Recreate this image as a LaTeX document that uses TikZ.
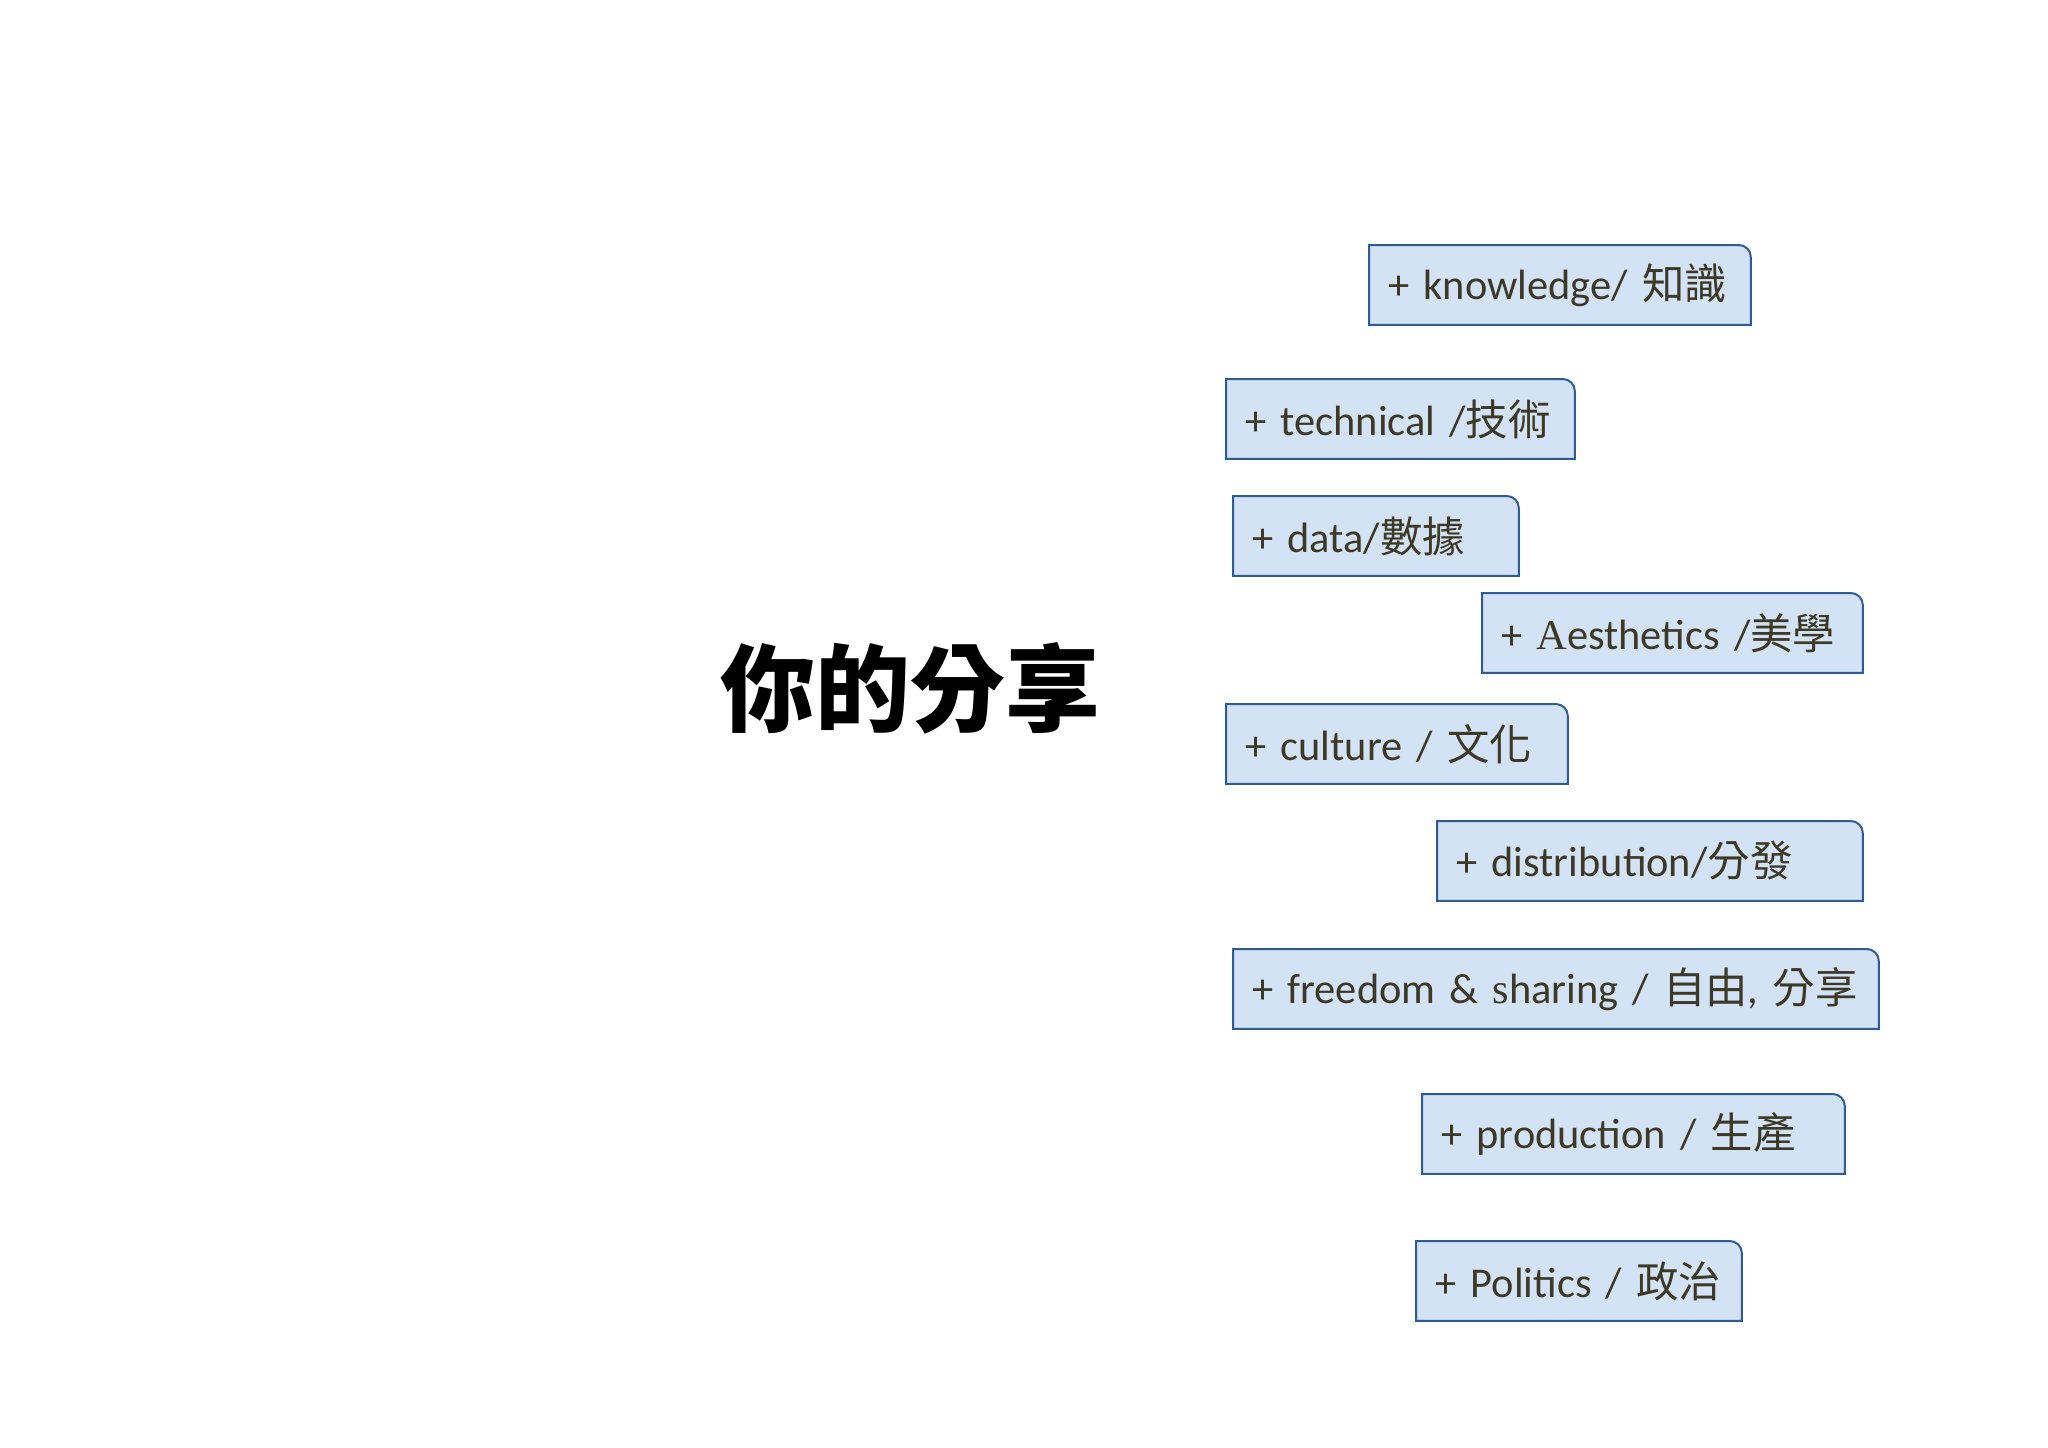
\documentclass[tikz,border=0pt]{standalone}
\usepackage{fontspec}
\setmainfont{Carlito}
\newfontfamily\cjk{Noto Sans CJK TC}
\newfontfamily\serifA{Liberation Serif}
\usetikzlibrary{backgrounds}
\definecolor{boxfill}{HTML}{D3E2F4}
\definecolor{boxline}{HTML}{2F5C98}
\definecolor{txt}{HTML}{3C3A26}
\tikzset{
  item/.style={anchor=north west, minimum height=39.5pt, text width=#1, inner xsep=9.5pt, inner ysep=0pt, align=left, font=\fontsize{21.2}{25}\selectfont, text=txt},
  outline/.style={fill=boxfill, draw=boxline, line width=1pt},
  titletext/.style={font=\cjk\bfseries\fontsize{47.5}{56}\selectfont, text=black, inner sep=0pt}
}
\begin{document}
\begin{tikzpicture}[x=0.5pt,y=-0.5pt]
\useasboundingbox (0,0) rectangle (2048,1447);
\node[titletext] (title) at (910,688) {你的分享};
\node[item=171.5pt] (k)  at (1369,245)  {+ knowledge/ {\cjk 知識}};
\node[item=155pt]   (t)  at (1226,379)  {+ technical /{\cjk 技術}};
\node[item=123.5pt] (d)  at (1233,496)  {+ data/{\cjk 數據}};
\node[item=171pt]   (a)  at (1482,593)  {+ {\serifA A}esthetics /{\cjk 美學}};
\node[item=151.5pt] (c)  at (1226,704)  {+ culture / {\cjk 文化}};
\node[item=193.5pt] (di) at (1437,821)  {+ distribution/{\cjk 分發}};
\node[item=303.5pt] (f)  at (1233,949)  {+ freedom \& {\serifA s}haring / {\cjk 自由}, {\cjk 分享}};
\node[item=192pt]   (p)  at (1422,1094) {+ production / {\cjk 生產}};
\node[item=143.5pt] (po) at (1416,1241) {+ Politics / {\cjk 政治}};
\begin{scope}[on background layer]
\foreach \n in {k,t,d,a,c,di,f,p,po}
  \filldraw[outline] (\n.south west) -- (\n.north west) -- ([xshift=-6pt]\n.north east) arc[start angle=90,end angle=0,radius=6pt] -- (\n.south east) -- cycle;
\end{scope}
\end{tikzpicture}
\end{document}
